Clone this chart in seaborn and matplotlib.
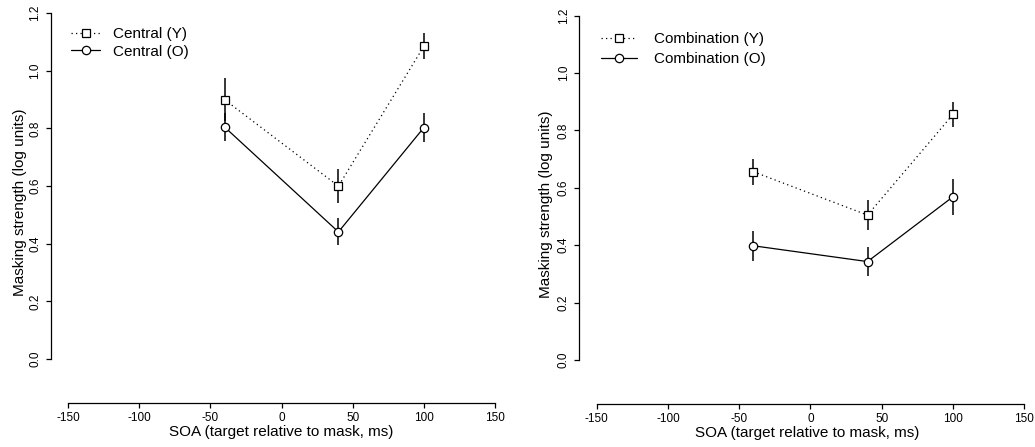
import numpy as np
import pandas as pd
import matplotlib
matplotlib.use("Agg")
import matplotlib.pyplot as plt
import seaborn as sns

# values
soa = [-40, 40, 100]

central_y = [0.900, 0.600, 1.085]
central_y_err = [0.075, 0.060, 0.045]
central_o = [0.805, 0.441, 0.803]
central_o_err = [0.050, 0.047, 0.050]

combo_y = [0.656, 0.505, 0.856]
combo_y_err = [0.046, 0.053, 0.043]
combo_o = [0.398, 0.343, 0.569]
combo_o_err = [0.053, 0.052, 0.063]

x_ticks = [-150, -100, -50, 0, 50, 100, 150]
y_ticks = [0.0, 0.2, 0.4, 0.6, 0.8, 1.0, 1.2]

sns.set_style("ticks")
plt.rcParams["font.family"] = ["Liberation Sans", "DejaVu Sans"]
plt.rcParams["text.color"] = "black"
plt.rcParams["axes.labelcolor"] = "black"
plt.rcParams["xtick.color"] = "black"
plt.rcParams["ytick.color"] = "black"

W, H = 1035, 447
fig = plt.figure(figsize=(W / 100, H / 100), dpi=100)


def make_axes(left_px, right_px, bottom_px, top_px):
    return fig.add_axes([left_px / W, 1 - bottom_px / H,
                         (right_px - left_px) / W, (bottom_px - top_px) / H])


def draw_panel(ax, name, yv, ye, ov, oe, xlim, ylim, ylab_x, leg):
    df = pd.DataFrame({"soa": soa, "y": yv, "o": ov})
    # error bars first so the open markers sit on top
    ax.errorbar(df["soa"], df["y"], yerr=ye, fmt="none", ecolor="black",
                elinewidth=1.1, capsize=0, zorder=1)
    ax.errorbar(df["soa"], df["o"], yerr=oe, fmt="none", ecolor="black",
                elinewidth=1.1, capsize=0, zorder=1)
    sns.lineplot(data=df, x="soa", y="y", ax=ax, color="black", lw=0.9,
                 linestyle=(0, (1, 2.6)), marker="s", ms=5.2, mfc="white",
                 mec="black", mew=0.9, errorbar=None,
                 label=name + " (Y)", zorder=2)
    sns.lineplot(data=df, x="soa", y="o", ax=ax, color="black", lw=0.9,
                 linestyle="-", marker="o", ms=6, mfc="white",
                 mec="black", mew=0.9, errorbar=None,
                 label=name + " (O)", zorder=2)

    ax.set_xlim(*xlim)
    ax.set_ylim(*ylim)
    ax.set_xticks(x_ticks)
    ax.set_xticklabels([str(t) for t in x_ticks])
    ax.set_yticks(y_ticks)
    ax.set_yticklabels(["%.1f" % t for t in y_ticks], rotation=90, va="center")
    ax.tick_params(axis="both", labelsize=8.5, length=3.5, width=0.9,
                   color="black", labelcolor="black", pad=3)
    for s in ["top", "right"]:
        ax.spines[s].set_visible(False)
    ax.spines["left"].set_bounds(0, 1.2)
    ax.spines["bottom"].set_bounds(-150, 150)
    for s in ["left", "bottom"]:
        ax.spines[s].set_linewidth(0.9)
        ax.spines[s].set_color("black")

    ax.set_xlabel("SOA (target relative to mask, ms)", fontsize=11, color="black")
    ax.set_ylabel("Masking strength (log units)", fontsize=11, color="black")
    ax.xaxis.set_label_coords(0.5, -0.055)
    ax.yaxis.set_label_coords(ylab_x, 0.5)
    ax.patch.set_alpha(0)

    x0, y0, hl, tp, ls = leg
    lg = ax.legend(loc="upper left", bbox_to_anchor=(x0 / W, 1 - y0 / H),
                   bbox_transform=fig.transFigure, frameon=False, fontsize=11,
                   handlelength=hl, handletextpad=tp, labelspacing=ls,
                   borderpad=0, borderaxespad=0, numpoints=1)
    for t in lg.get_texts():
        t.set_color("black")


ax1 = make_axes(50.5, 512.5, 403.3, 1.7)
draw_panel(ax1, "Central", central_y, central_y_err, central_o, central_o_err,
           (-162.3, 162.3), (-0.1538, 1.24), -0.051,
           (71, 27, 1.9, 0.85, 0.23))

ax2 = make_axes(579, 1035, 404.3, 4.2)
draw_panel(ax2, "Combination", combo_y, combo_y_err, combo_o, combo_o_err,
           (-162.4, 157.5), (-0.1544, 1.24), -0.057,
           (601, 32, 2.35, 1.1, 0.42))

fig.savefig("out.png", dpi=100)
